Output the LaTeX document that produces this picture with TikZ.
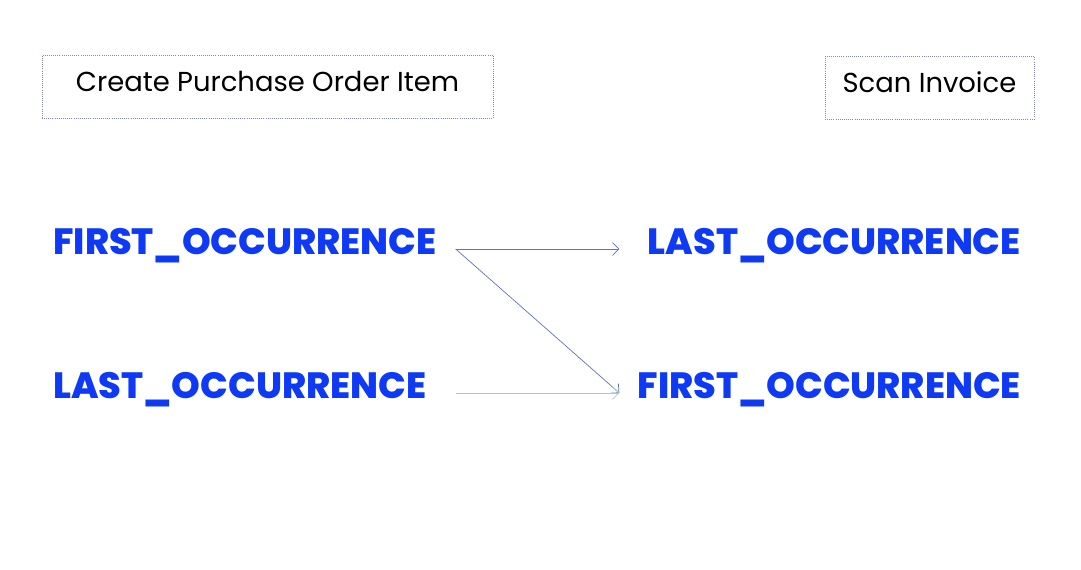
\documentclass[tikz,border=0pt]{standalone}
\usepackage{fontspec}
\setmainfont{Poppins}
\newfontfamily\occfont{Poppins ExtraBold}
\usetikzlibrary{arrows.meta}
\definecolor{occblue}{RGB}{14,58,245}
\definecolor{boxline}{RGB}{128,136,190}
\definecolor{flowblue}{RGB}{96,114,200}
\definecolor{flowgreen}{RGB}{160,214,160}

\begin{document}
\begin{tikzpicture}
[   x=0.025cm, y=-0.025cm,
    act/.style={draw=boxline,densely dotted,line width=0.5pt,minimum height=1.575cm,text height=14pt,text depth=7pt,font=\fontsize{19.5}{24}\selectfont},
    occ/.style={text=occblue,font=\fontsize{26}{30}\occfont,inner sep=0pt,text width=9.575cm},
    flow/.style={-{Straight Barb[length=1.6mm,width=3.2mm]},line width=0.5pt,draw=flowblue}
]
    \useasboundingbox (0,0) rectangle (1081,570);
    \node[act,minimum width=11.275cm] (PO) at (267.5,86.5) {Create Purchase Order Item};
    \node[act,minimum width=5.225cm] (SI) at (929.5,87.5) {Scan Invoice};
    \node[occ,anchor=west,align=left] (PF) at (53,246) {FIRST\_OCCURRENCE};
    \node[occ,anchor=west,align=left] (PL) at (53,390) {LAST\_OCCURRENCE};
    \node[occ,anchor=east,align=right] (SL) at (1021,246) {LAST\_OCCURRENCE};
    \node[occ,anchor=east,align=right] (SF) at (1021,390) {FIRST\_OCCURRENCE};
    \draw[flow] ([xshift=19*0.025cm,yshift=-0.075cm]PF.east) -- ([xshift=-18*0.025cm,yshift=-0.075cm]SL.west);
    \draw[flow] ([xshift=19*0.025cm,yshift=-0.075cm]PF.east) -- ([xshift=-18*0.025cm,yshift=-0.075cm]SF.west);
    \draw[flow,draw=flowgreen] ([xshift=19*0.025cm,yshift=-0.075cm]PL.east) -- ([xshift=-18*0.025cm,yshift=-0.075cm]SF.west);
\end{tikzpicture}
\end{document}
